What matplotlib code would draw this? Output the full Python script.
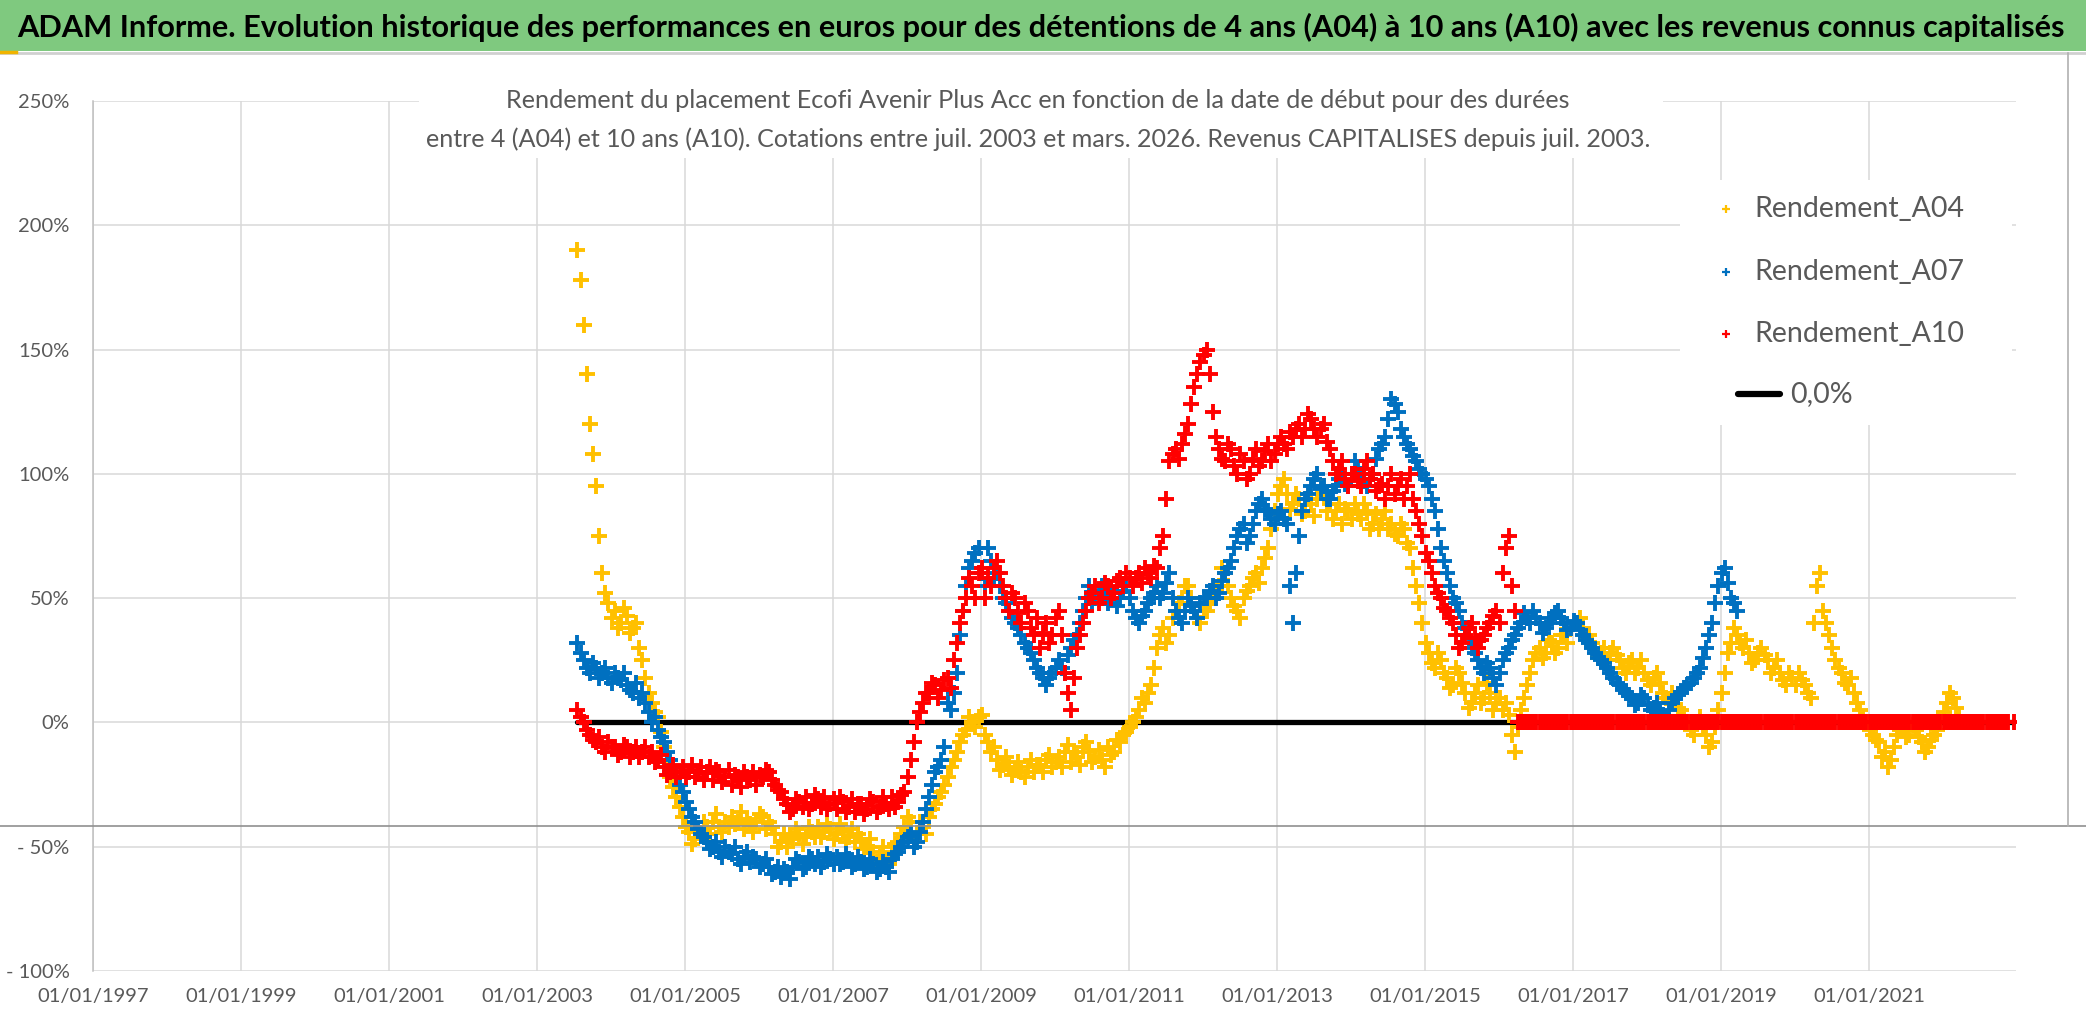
import numpy as np
import pandas as pd
import matplotlib
matplotlib.use("Agg")
import matplotlib.pyplot as plt
from matplotlib.lines import Line2D
from matplotlib.patches import Rectangle
from matplotlib.ticker import FuncFormatter, MultipleLocator

# Readings in %, two per month.
# "main" arrays: ~20th of each month, first value = July 2003, one row per year.
# "mid" arrays: ~5th of the following month (between two main readings).
a04 = [
    190, 160, 120, 95, 60, 48,
    45, 40, 43, 38, 30, 18, 8, 2, -10, -22, -30, -38,
    -44, -47, -45, -42, -40, -42, -40, -38, -40, -43, -41, -40,
    -38, -40, -45, -48, -50, -47, -45, -46, -44, -42, -44, -43,
    -45, -44, -46, -48, -47, -50, -52, -54, -55, -52, -48, -42,
    -40, -45, -42, -38, -33, -28, -22, -15, -8, -3, 0, 2,
    -5, -12, -15, -17, -18, -19, -20, -18, -20, -17, -15, -18,
    -14, -12, -16, -14, -10, -12, -14, -15, -10, -12, -8, -4,
    0, 5, 8, 15, 30, 38, 35, 45, 50, 55, 45, 40,
    45, 50, 55, 60, 50, 45, 50, 55, 60, 62, 70, 85,
    95, 92, 88, 90, 85, 88, 90, 92, 88, 85, 80, 85,
    88, 82, 85, 80, 78, 85, 80, 75, 78, 70, 55, 40,
    28, 22, 25, 18, 15, 20, 12, 8, 15, 10, 12, 8,
    5, 3, -12, 5, 15, 25, 30, 28, 32, 30, 35, 38,
    40, 38, 35, 30, 28, 25, 30, 25, 20, 25, 22, 20,
    15, 20, 12, 8, 10, 5, 0, -5, 2, -5, -8, 5,
    20, 32, 35, 30, 28, 25, 30, 25, 22, 20, 15, 18,
    20, 15, 10, 55, 45, 35, 25, 20, 15, 12, 5, 0,
    -5, -8, -12, -15, -5, -2, -5, -3, -8, -10, -5, 0,
    8, 10, 2,
]
a04_mid = [
    178, 140, 108, 75, 52, 42,
    38, 46, 36, 40, 25, 12, 4, -4, -16, -26, -34, -42,
    -49, -43, -40, -45, -37, -44, -42, -41, -36, -39, -44, -37,
    -43, -42, -50, -45, -46, -43, -49, -42, -46, -46, -41, -47,
    -41, -48, -43, -45, -51, -47, -56, -50, -57, -49, -45, -38,
    -47, -40, -45, -35, -30, -25, -18, -12, -5, 2, -2, 3,
    -8, -10, -19, -14, -21, -16, -22, -15, -17, -20, -13, -16,
    -18, -9, -12, -17, -8, -16, -11, -18, -13, -7, -5, -2,
    2, 10, 12, 22, 35, 32, 42, 48, 55, 50, 42, 45,
    48, 53, 62, 55, 47, 42, 53, 58, 56, 66, 78, 92,
    98, 86, 92, 84, 90, 83, 95, 85, 82, 88, 86, 82,
    84, 88, 78, 84, 82, 78, 76, 80, 72, 62, 48, 32,
    24, 28, 20, 14, 22, 16, 6, 12, 8, 16, 5, 10,
    8, -5, -2, 10, 20, 28, 26, 33, 28, 35, 32, 40,
    42, 34, 32, 26, 30, 28, 27, 22, 24, 20, 25, 17,
    18, 16, 10, 12, 6, 2, -3, 0, -2, -10, -2, 12,
    28, 38, 32, 33, 24, 28, 27, 20, 25, 17, 20, 15,
    17, 12, 40, 60, 40, 30, 22, 16, 18, 8, 2, -3,
    -7, -14, -18, -10, -3, -6, -1, -6, -12, -7, -3, 4,
    12, 6,
]

a07 = [
    32, 25, 20, 22, 20, 18,
    20, 17, 15, 12, 10, 8, 0, -3, -8, -15, -22, -28,
    -35, -40, -45, -48, -50, -52, -50, -53, -55, -54, -56, -55,
    -57, -58, -60, -62, -60, -58, -56, -58, -55, -54, -56, -55,
    -54, -56, -55, -57, -56, -58, -57, -59, -58, -55, -52, -48,
    -45, -48, -40, -30, -20, -15, 8, 12, 35, 55, 65, 70,
    55, 65, 60, 50, 45, 40, 35, 30, 25, 20, 15, 20,
    25, 20, 30, 35, 45, 55, 50, 55, 48, 52, 50, 55,
    45, 40, 45, 50, 55, 52, 60, 45, 40, 50, 45, 48,
    50, 55, 52, 60, 65, 75, 80, 75, 85, 90, 85, 80,
    85, 80, 40, 75, 90, 95, 100, 95, 90, 95, 100, 95,
    105, 100, 95, 100, 110, 115, 130, 125, 115, 110, 105, 100,
    95, 85, 70, 60, 50, 45, 38, 30, 25, 20, 22, 15,
    25, 30, 35, 40, 42, 45, 40, 38, 42, 45, 40, 38,
    40, 35, 32, 28, 25, 22, 18, 15, 12, 10, 8, 10,
    5, 8, 3, 5, 10, 12, 15, 18, 22, 30, 40, 55,
    62, 50, 45,
]
a07_mid = [
    28, 22, 24, 18, 22, 16,
    18, 20, 13, 16, 12, 4, 2, -6, -12, -18, -25, -32,
    -38, -43, -46, -51, -48, -54, -52, -50, -57, -52, -54, -58,
    -55, -61, -58, -59, -63, -55, -59, -54, -57, -58, -53, -57,
    -57, -53, -58, -54, -59, -55, -60, -56, -60, -53, -50, -46,
    -50, -44, -35, -25, -18, -10, 5, 20, 45, 62, 68, 60,
    70, 58, 55, 48, 42, 38, 32, 28, 22, 18, 18, 22,
    22, 27, 33, 40, 50, 48, 53, 50, 54, 47, 53, 50,
    42, 43, 48, 52, 50, 56, 50, 42, 45, 47, 42, 50,
    53, 50, 57, 62, 70, 78, 72, 80, 88, 86, 82, 84,
    82, 55, 60, 85, 92, 98, 94, 90, 93, 98, 96, 100,
    102, 97, 98, 106, 112, 122, 128, 118, 112, 107, 102, 98,
    90, 78, 65, 55, 48, 40, 34, 28, 22, 24, 18, 20,
    28, 33, 38, 44, 40, 42, 36, 40, 44, 42, 37, 41,
    37, 33, 30, 26, 24, 20, 16, 13, 11, 7, 11, 7,
    6, 4, 2, 8, 11, 14, 16, 20, 26, 35, 48, 60,
    56, 48,
]

a10 = [
    5, 0, -5, -8, -10, -8,
    -10, -12, -10, -12, -14, -10, -12, -15, -18, -20, -22, -18,
    -20, -22, -18, -20, -23, -20, -22, -25, -22, -20, -23, -25,
    -22, -20, -25, -28, -33, -35, -32, -30, -33, -31, -30, -33,
    -35, -32, -34, -36, -33, -35, -32, -34, -33, -30, -32, -28,
    -15, 0, 8, 12, 15, 13, 18, 25, 40, 50, 55, 60,
    50, 55, 65, 55, 45, 50, 40, 45, 35, 30, 40, 35,
    45, 20, 5, 30, 40, 50, 55, 50, 55, 52, 58, 60,
    55, 60, 62, 58, 62, 75, 105, 110, 112, 120, 135, 145,
    150, 125, 110, 105, 110, 100, 105, 100, 110, 105, 112, 108,
    115, 110, 115, 120, 118, 122, 115, 120, 110, 100, 105, 95,
    100, 95, 105, 100, 95, 90, 100, 95, 90, 100, 85, 75,
    65, 55, 50, 45, 40, 30, 35, 40, 30, 35, 40, 45,
    60, 75, 45,
    # no quotation after March 2016: the sheet plots the empty cells as 0
    0, 0, 0, 0, 0, 0, 0, 0, 0,
    0, 0, 0, 0, 0, 0, 0, 0, 0, 0, 0, 0,
    0, 0, 0, 0, 0, 0, 0, 0, 0, 0, 0, 0,
    0, 0, 0, 0, 0, 0, 0, 0, 0, 0, 0, 0,
    0, 0, 0, 0, 0, 0, 0, 0, 0, 0, 0, 0,
    0, 0, 0, 0, 0, 0, 0, 0, 0, 0, 0, 0,
    0, 0, 0, 0, 0, 0, 0, 0, 0, 0, 0, 0,
]
a10_mid = [
    2, -3, -7, -6, -12, -10,
    -13, -9, -14, -10, -12, -14, -16, -13, -21, -17, -20, -22,
    -17, -20, -23, -18, -19, -24, -19, -21, -26, -22, -20, -21,
    -19, -23, -27, -31, -36, -31, -34, -35, -29, -34, -35, -31,
    -30, -36, -31, -33, -37, -31, -36, -30, -35, -34, -29, -22,
    -8, 4, 12, 16, 10, 17, 14, 32, 45, 58, 50, 62,
    58, 62, 60, 50, 52, 44, 48, 38, 42, 36, 32, 42,
    35, 12, 18, 35, 45, 52, 48, 56, 50, 57, 55, 58,
    58, 56, 60, 63, 70, 90, 108, 106, 116, 128, 140, 148,
    140, 115, 106, 112, 103, 108, 98, 106, 103, 109, 105, 112,
    112, 117, 118, 115, 124, 118, 118, 113, 105, 102, 98, 100,
    97, 102, 98, 93, 96, 95, 92, 98, 95, 90, 80, 68,
    60, 52, 46, 42, 35, 32, 38, 34, 33, 38, 43, 40,
    70, 55,
    0, 0, 0, 0, 0, 0, 0, 0, 0,
    0, 0, 0, 0, 0, 0, 0, 0, 0, 0, 0, 0,
    0, 0, 0, 0, 0, 0, 0, 0, 0, 0, 0, 0,
    0, 0, 0, 0, 0, 0, 0, 0, 0, 0, 0, 0,
    0, 0, 0, 0, 0, 0, 0, 0, 0, 0, 0, 0,
    0, 0, 0, 0, 0, 0, 0, 0, 0, 0, 0, 0,
    0, 0, 0, 0, 0, 0, 0, 0, 0, 0, 0,
]

zero_level = [0.0, 0.0]
series_names = ["Rendement_A04", "Rendement_A07", "Rendement_A10"]
zero_name = "0,0%"
tick_years = ["1997", "1999", "2001", "2003", "2005", "2007", "2009",
              "2011", "2013", "2015", "2017", "2019", "2021"]

title = ("ADAM Informe. Evolution historique des performances en euros pour des "
         "détentions de 4 ans (A04) à 10 ans (A10) avec les revenus connus capitalisés")
subtitle1 = ("Rendement du placement Ecofi Avenir Plus Acc en fonction de la date "
             "de début pour des durées")
subtitle2 = ("entre 4 (A04) et 10 ans (A10). Cotations entre juil. 2003 et mars. 2026. "
             "Revenus CAPITALISES depuis juil. 2003.")

colors = ["#FFC000", "#0070C0", "#FF0000"]
gray_txt = "#595959"
plt.rcParams["font.family"] = ["Lato", "DejaVu Sans"]

W, H = 2086, 1031
fig = plt.figure(figsize=(W / 100, H / 100), dpi=100)


def main_dates(n):
    return pd.date_range("2003-07-01", periods=n, freq="MS") + pd.Timedelta(days=19)


def mid_dates(n):
    return pd.date_range("2003-08-01", periods=n, freq="MS") + pd.Timedelta(days=4)


def px(x, y):
    # pixel position (from top-left) -> figure fraction
    return x / W, 1 - y / H


# plot area
L, R, T, B = 93, 2016, 101, 971
ax = fig.add_axes([L / W, 1 - B / H, (R - L) / W, (B - T) / H])

d_all = main_dates(len(a10))
ax.plot([d_all[0], d_all[-1]], zero_level, color="black", lw=3.8, zorder=2,
        solid_capstyle="round")
for main, mid, c, name in zip([a04, a07, a10], [a04_mid, a07_mid, a10_mid],
                              colors, series_names):
    x = main_dates(len(main)).append(mid_dates(len(mid)))
    y = list(main) + list(mid)
    ax.plot(x, y, ls="none", marker="+", ms=11, mew=2.8,
            color=c, zorder=3, label=name)

ax.set_xlim(pd.Timestamp("1997-01-01"), pd.Timestamp("2022-12-28"))
ax.set_ylim(-100, 250)
ax.yaxis.set_major_locator(MultipleLocator(50))
ax.yaxis.set_major_formatter(FuncFormatter(
    lambda v, p: f"{v:.0f}%" if v >= 0 else f"- {abs(v):.0f}%"))
ax.set_xticks([pd.Timestamp(y + "-01-01") for y in tick_years])
ax.set_xticklabels(["01/01/" + y for y in tick_years])
ax.grid(True, color="#D9D9D9", lw=1.1, zorder=0)
ax.set_axisbelow(True)
for s in ["top", "right", "bottom"]:
    ax.spines[s].set_visible(False)
ax.spines["left"].set_color("#BFBFBF")
ax.spines["left"].set_linewidth(1.1)
ax.tick_params(length=0, labelsize=14.5, labelcolor=gray_txt)
ax.tick_params(axis="y", pad=17)
ax.tick_params(axis="x", pad=12)

# green banner with main title
fig.add_artist(Rectangle(px(0, 51), 1, 51 / H, transform=fig.transFigure,
                         facecolor="#7FC97F", edgecolor="none", zorder=1))
fig.add_artist(Line2D([0, 1], [1 - 53 / H] * 2, transform=fig.transFigure,
                      color="#D0D0D0", lw=2, zorder=1))
fig.add_artist(Line2D([0, 16 / W], [1 - 52 / H] * 2, transform=fig.transFigure,
                      color="#F0B400", lw=2.5, zorder=2))
t_title = fig.text(1041 / W, 1 - 27 / H, title, ha="center", va="center",
                   fontsize=26, fontweight="bold", color="black")

# subtitle on white box hiding the grid
fig.add_artist(Rectangle(px(419, 158), (1663 - 419) / W, (158 - 77) / H,
                         transform=fig.transFigure, facecolor="white",
                         edgecolor="none", zorder=1))
t_sub1 = fig.text(1038 / W, 1 - 100 / H, subtitle1, ha="center", va="center",
                  fontsize=20, color=gray_txt)
t_sub2 = fig.text(1038 / W, 1 - 139 / H, subtitle2, ha="center", va="center",
                  fontsize=20, color=gray_txt)

# legend on white box
fig.add_artist(Rectangle(px(1680, 425), (2012 - 1680) / W, (425 - 180) / H,
                         transform=fig.transFigure, facecolor="white",
                         edgecolor="none", zorder=1))
leg_y = [209, 272, 334, 394]
for yy, c, name in zip(leg_y[:3], colors, series_names):
    fig.add_artist(Line2D([1726 / W], [1 - yy / H], transform=fig.transFigure,
                          ls="none", marker="+", ms=6, mew=1.6, color=c, zorder=3))
    fig.text(1754 / W, 1 - yy / H, name, ha="left", va="center", fontsize=20.5,
             color=gray_txt)
fig.add_artist(Line2D([1738 / W, 1780 / W], [1 - leg_y[3] / H] * 2,
                      transform=fig.transFigure, color="black", lw=4.5,
                      solid_capstyle="round", zorder=3))
fig.text(1790 / W, 1 - leg_y[3] / H, zero_name, ha="left", va="center",
         fontsize=20.5, color=gray_txt)

# window borders visible in the capture
fig.add_artist(Line2D([0, 1], [1 - 826 / H] * 2, transform=fig.transFigure,
                      color="#909090", lw=1.2, zorder=4))
fig.add_artist(Line2D([2068 / W] * 2, [1 - 53 / H, 1 - 826 / H],
                      transform=fig.transFigure, color="#B0B0B0", lw=1.2, zorder=4))


def fit_width(t, width_px):
    r = fig.canvas.get_renderer()
    w = t.get_window_extent(r).width
    t.set_fontsize(t.get_fontsize() * width_px / w)


fig.canvas.draw()
fit_width(t_title, 2050)
fit_width(t_sub1, 1068)
fit_width(t_sub2, 1227)

fig.savefig("out.png", dpi=100, facecolor="white")
